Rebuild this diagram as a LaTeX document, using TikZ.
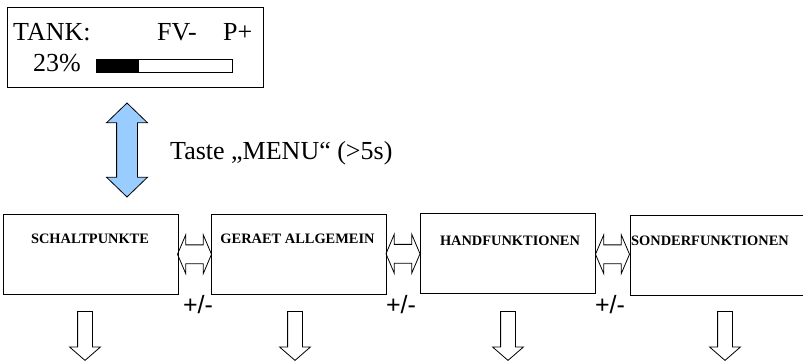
\documentclass[tikz,border=0pt]{standalone}
\usepackage{fontspec}
\setmainfont{Liberation Serif}
\newfontfamily\arialfont{Liberation Sans}
\usetikzlibrary{shapes.arrows,calc}
\definecolor{menublue}{RGB}{153,204,255}
\tikzset{
  menubox/.style={draw,line width=0.8pt,minimum height=80pt,inner sep=0pt},
  menutext/.style={font=\bfseries\fontsize{14.4}{16}\selectfont,inner sep=0pt},
  lcdtext/.style={font=\fontsize{26}{30}\selectfont,inner sep=0pt,anchor=base west},
  plusminus/.style={font=\arialfont\fontsize{25}{28}\selectfont,inner sep=0pt},
  sidearrow/.style={draw,line width=0.8pt,double arrow,inner sep=9pt,minimum height=34pt,
    double arrow head extend=10pt,double arrow tip angle=134},
  downarrow/.style={draw,line width=0.8pt,single arrow,inner sep=7pt,minimum height=49pt,
    single arrow head extend=8pt,single arrow tip angle=98,
    shape border rotate=270,anchor=tail},
  menuarrow/.style={draw,line width=0.8pt,fill=menublue,double arrow,inner sep=10pt,
    minimum height=94pt,double arrow head extend=10pt,
    double arrow tip angle=92,shape border rotate=90}
}
\begin{document}
\begin{tikzpicture}[x=1pt,y=-1pt]
    \useasboundingbox (0,0) rectangle (803,361);
    \node[draw,line width=0.8pt,minimum width=256pt,minimum height=80pt,inner sep=0pt] (lcd) at (135,47) {};
    \node[lcdtext] (tank) at (13,41) {TANK:};
    \node[lcdtext] (fv) at (157,41) {FV-};
    \node[lcdtext] (pplus) at (223,41) {P+};
    \node[lcdtext] (pct) at (33,72) {23\%};
    \draw[line width=0.8pt] (96,59) rectangle (232,72);
    \fill (96,59) rectangle (139,72);
    \node[menuarrow] (menu) at (127,150) {};
    \node[lcdtext] (taste) at (170,159) {Taste „MENU“ (>5s)};
    \foreach \n/\x/\y/\w in {sp/90.5/254/175,ga/298.5/254.5/175,hf/507.5/253/175,sf/716.5/255.5/173}
    \node[menubox,minimum width=\w pt] (\n) at (\x,\y) {};
    \foreach \n/\x/\y/\t in {sp/90/239/SCHALTPUNKTE,ga/297.5/239/GERAET ALLGEMEIN,hf/510/241/HANDFUNKTIONEN,sf/710/241/SONDERFUNKTIONEN}
    \node[menutext] (\n-t) at (\x,\y) {\t};
    \foreach \a/\b in {sp/ga,ga/hf,hf/sf}
    \node[sidearrow] (\a-\b) at ($(\a.east)!0.5!(\b.west)$) {};
    \foreach \n/\x in {pm1/198,pm2/401,pm3/610}
    \node[plusminus] (\n) at (\x,305) {+/-};
    \foreach \n/\x in {sp/85,ga/295,hf/508,sf/725}
    \node[downarrow] (\n-d) at (\x,311) {};
\end{tikzpicture}
\end{document}
